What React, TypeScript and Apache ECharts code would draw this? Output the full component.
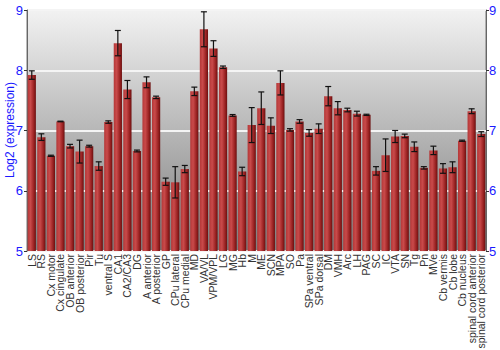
import React, { useEffect, useRef } from "react";
import * as echarts from "echarts";

const categories = [
  "LS", "RS", "Cx motor", "Cx cingulate", "OB anterior", "OB posterior", "Pir", "Tu",
  "ventral S", "CA1", "CA2/CA3", "DG", "A anterior", "A posterior", "GP", "CPu lateral",
  "CPu medial", "MD", "VA/VL", "VPM/VPL", "LG", "MG", "Hb", "M", "ME", "SCN", "MPA",
  "SO", "Pa", "SPa ventral", "SPa dorsal", "DM", "VMH", "Arc", "LH", "PAG", "SC", "IC",
  "VTA", "SN", "Tg", "Pn", "MVe", "Cb vermis", "Cb lobe", "Cb nucleus",
  "spinal cord anterior", "spinal cord posterior",
];

const values = [
  7.92, 6.89, 6.58, 7.15, 6.74, 6.65, 6.74, 6.41,
  7.14, 8.45, 7.68, 6.66, 7.8, 7.55, 6.15, 6.14,
  6.36, 7.65, 8.68, 8.36, 8.05, 7.25, 6.32, 7.09, 7.37, 7.08, 7.79,
  7.01, 7.15, 6.96, 7.03, 7.57, 7.37, 7.34, 7.28, 7.26, 6.33, 6.59,
  6.9, 6.91, 6.73, 6.38, 6.67, 6.37, 6.39, 6.83,
  7.32, 6.94,
];

const errors = [
  0.07, 0.055, 0.01, 0.005, 0.03, 0.19, 0.015, 0.07,
  0.02, 0.21, 0.15, 0.015, 0.09, 0.02, 0.06, 0.26,
  0.06, 0.07, 0.29, 0.13, 0.02, 0.015, 0.07, 0.29, 0.27, 0.13, 0.2,
  0.02, 0.03, 0.055, 0.08, 0.16, 0.11, 0.03, 0.04, 0.01, 0.07, 0.27,
  0.1, 0.03, 0.08, 0.02, 0.07, 0.08, 0.09, 0.01,
  0.04, 0.04,
];

const yTicks = [5, 6, 7, 8, 9];
const yTitle = "Log2 (expression)";

export default function App() {
  const ref = useRef<HTMLDivElement>(null);

  useEffect(() => {
    if (!ref.current) return;
    const chart = echarts.init(ref.current, undefined, { renderer: "svg" });
    const errData = categories.map((_, i) => [i, values[i] - errors[i], values[i] + errors[i]]);

    chart.setOption({
      animation: false,
      graphic: [
        {
          type: "text",
          x: 10,
          y: 130,
          rotation: Math.PI / 2,
          style: {
            text: yTitle,
            fill: "#1a1aff",
            fontSize: 12,
            fontFamily: "Liberation Sans, Arial, sans-serif",
            align: "center",
            verticalAlign: "middle",
          },
        },
      ],
      grid: {
        left: 27,
        right: 14,
        top: 10,
        bottom: 99,
        containLabel: false,
        outerBoundsMode: "none",
        show: true,
        borderColor: "#777",
        borderWidth: 1,
        backgroundColor: new echarts.graphic.LinearGradient(0, 0, 0, 1, [
          { offset: 0, color: "#f2f2f2" },
          { offset: 1, color: "#7c7c7c" },
        ]),
      },
      xAxis: {
        type: "category",
        data: categories,
        axisLine: { show: false },
        axisTick: { show: false },
        axisLabel: {
          rotate: 90,
          interval: 0,
          color: "#333",
          fontSize: 10.5,
          fontFamily: "Liberation Sans, Arial, sans-serif",
          margin: 3,
        },
      },
      yAxis: [
        {
          type: "value",
          min: yTicks[0],
          max: yTicks[yTicks.length - 1],
          interval: 1,
          axisLine: { show: true, lineStyle: { color: "#666" } },
          axisTick: { show: true, length: 3, lineStyle: { color: "#333" } },
          axisLabel: {
            color: "#1a1aff",
            fontSize: 13,
            margin: 4,
            fontFamily: "Liberation Sans, Arial, sans-serif",
          },
          splitLine: { show: true, lineStyle: { color: "#f4f4f4", width: 2 } },
        },
        {
          type: "value",
          position: "right",
          min: yTicks[0],
          max: yTicks[yTicks.length - 1],
          interval: 1,
          axisLine: { show: true, lineStyle: { color: "#666" } },
          axisTick: { show: true, length: 3, lineStyle: { color: "#333" } },
          axisLabel: {
            color: "#1a1aff",
            fontSize: 13,
            margin: 3,
            fontFamily: "Liberation Sans, Arial, sans-serif",
          },
          splitLine: { show: false },
        },
      ],
      series: [
        {
          type: "bar",
          data: values,
          barCategoryGap: "14%",
          itemStyle: {
            color: new echarts.graphic.LinearGradient(0, 0, 1, 0, [
              { offset: 0, color: "#b43838" },
              { offset: 0.35, color: "#c94a4a" },
              { offset: 0.75, color: "#9a2222" },
              { offset: 1, color: "#6a1010" },
            ]),
          },
        },
        {
          type: "custom",
          data: errData,
          z: 10,
          renderItem: (params: any, api: any) => {
            const i = api.value(0);
            const lo = api.coord([i, api.value(1)]);
            const hi = api.coord([i, api.value(2)]);
            const x = lo[0];
            const cap = 3;
            const style = { stroke: "#111", lineWidth: 1.2 };
            return {
              type: "group",
              children: [
                { type: "line", shape: { x1: x, y1: lo[1], x2: x, y2: hi[1] }, style },
                { type: "line", shape: { x1: x - cap, y1: lo[1], x2: x + cap, y2: lo[1] }, style },
                { type: "line", shape: { x1: x - cap, y1: hi[1], x2: x + cap, y2: hi[1] }, style },
              ],
            };
          },
        },
      ],
    });

    return () => chart.dispose();
  }, []);

  return <div ref={ref} style={{ width: 500, height: 350, position: "absolute", left: 0, top: 0 }} />;
}
